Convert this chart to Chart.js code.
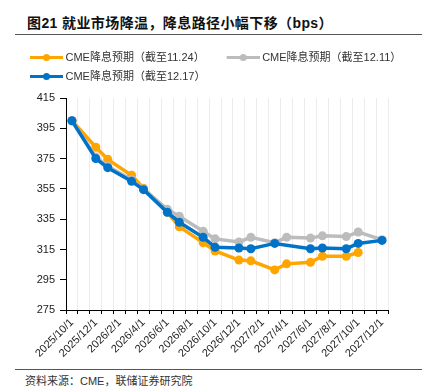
<!DOCTYPE html>
<html>
<head>
<meta charset="utf-8">
<script src="https://cdn.jsdelivr.net/npm/chart.js@4.4.1/dist/chart.umd.min.js"></script>
<style>
  body { margin: 0; width: 425px; height: 391px; background: #fff; position: relative; overflow: hidden;
         font-family: "Liberation Sans", "Noto Sans CJK SC", sans-serif; }
  #title { position: absolute; left: 27px; top: 12px; font-size: 14px; font-weight: bold; color: #111;
           white-space: nowrap; letter-spacing: 0.4px; }
  .rule { position: absolute; left: 15px; width: 407px; height: 1px; background: #555; }
  #src { position: absolute; left: 25px; top: 372px; font-size: 11px; color: #333; white-space: nowrap; }
  #chart { position: absolute; left: 8px; top: 44px; }
</style>
</head>
<body>
<div id="title">图21 就业市场降温，降息路径小幅下移（bps）</div>
<div class="rule" style="top:34px"></div>
<canvas id="chart" width="417" height="318"></canvas>
<div class="rule" style="top:369px"></div>
<div id="src">资料来源：CME，联储证券研究院</div>
<script>
// monthly categories, Excel-style date axis
var months = ['2025/10/1', '2025/11/1', '2025/12/1', '2026/1/1', '2026/2/1', '2026/3/1', '2026/4/1',
    '2026/5/1', '2026/6/1', '2026/7/1', '2026/8/1', '2026/9/1', '2026/10/1', '2026/11/1', '2026/12/1',
    '2027/1/1', '2027/2/1', '2027/3/1', '2027/4/1', '2027/5/1', '2027/6/1', '2027/7/1', '2027/8/1',
    '2027/9/1', '2027/10/1', '2027/11/1', '2027/12/1'];

var seriesNames = ['CME降息预期（截至11.24）', 'CME降息预期（截至12.11）', 'CME降息预期（截至12.17）'];

var asOf1124 = [400, null, 382.5, 374.5, null, 364, 355.5, null, 339.5, 330, null, 319.5, 314, null,
    308, 307.5, null, 301.5, 305.5, null, 306.5, 310.5, null, 310.5, 313, null, null];
var asOf1211 = [400, null, 376, 370, null, 361, 355, null, 341.5, 337, null, 327, 322, null,
    320, 323, null, 319.5, 323, null, 322.5, 324, null, 323.5, 326.5, null, 321.5];
var asOf1217 = [400, null, 375, 369, null, 360, 354.5, null, 339.5, 333, null, 323, 316.5, null,
    316, 315.5, null, 319, null, null, 315.5, 316, null, 315.5, 319, null, 321];

var yMin = 275, yMax = 415, yStep = 20;

var colors = ['rgb(255,165,0)', 'rgb(188,188,188)', 'rgb(0,114,200)'];

function legendIcon(color) {
    var c = document.createElement('canvas');
    c.width = 50; c.height = 9;
    var g = c.getContext('2d');
    g.strokeStyle = color;
    g.lineWidth = 3;
    g.beginPath(); g.moveTo(17, 4.5); g.lineTo(50, 4.5); g.stroke();
    g.fillStyle = color;
    g.beginPath(); g.arc(33.5, 4.5, 3.5, 0, Math.PI * 2); g.fill();
    return c;
}

var tickFont = { family: '"Liberation Sans", "Noto Sans CJK SC", sans-serif', size: 11 };

function makeSet(i, data, order) {
    return {
        label: seriesNames[i],
        data: data,
        borderColor: colors[i],
        backgroundColor: colors[i],
        borderWidth: 3.5,
        pointRadius: 4.5,
        pointHoverRadius: 4.5,
        pointBorderWidth: 0,
        spanGaps: true,
        tension: 0,
        order: order
    };
}

new Chart(document.getElementById('chart').getContext('2d'), {
    type: 'line',
    data: {
        labels: months,
        datasets: [makeSet(0, asOf1124, 3), makeSet(1, asOf1211, 2), makeSet(2, asOf1217, 1)]
    },
    options: {
        responsive: false,
        animation: false,
        layout: { padding: 0 },
        plugins: {
            tooltip: { enabled: false },
            legend: {
                position: 'top',
                align: 'start',
                labels: {
                    usePointStyle: true,
                    pointStyleWidth: 44,
                    padding: 8,
                    color: '#333',
                    font: tickFont,
                    sort: function (a, b) { return a.datasetIndex - b.datasetIndex; },
                    generateLabels: function (chart) {
                        var items = Chart.defaults.plugins.legend.labels.generateLabels(chart);
                        items.forEach(function (it) { it.pointStyle = legendIcon(colors[it.datasetIndex]); });
                        return items;
                    }
                }
            }
        },
        scales: {
            x: {
                offset: true,
                grid: { offset: true, color: '#ececec', tickColor: '#000', tickLength: 4, drawOnChartArea: true },
                border: { color: '#000', width: 1 },
                ticks: {
                    autoSkip: false,
                    minRotation: 45,
                    maxRotation: 45,
                    padding: 2,
                    color: '#222',
                    font: tickFont,
                    callback: function (v, i) { return i % 2 === 0 ? months[i] : ''; }
                }
            },
            // empty band between legend and plot
            xGap: {
                position: 'top',
                grid: { display: false },
                border: { display: false },
                ticks: { display: false },
                afterFit: function (s) { s.height = 6; }
            },
            y: {
                min: yMin,
                max: yMax,
                grid: { drawOnChartArea: false, tickColor: '#000', tickLength: 6 },
                border: { color: '#000', width: 1 },
                ticks: { stepSize: yStep, padding: 5, color: '#222', font: tickFont },
                afterFit: function (s) { s.width = 58; }
            },
            yPad: {
                position: 'right',
                grid: { display: false },
                border: { display: false },
                ticks: { display: false },
                afterFit: function (s) { s.width = 37; }
            }
        }
    }
});
</script>
</body>
</html>
